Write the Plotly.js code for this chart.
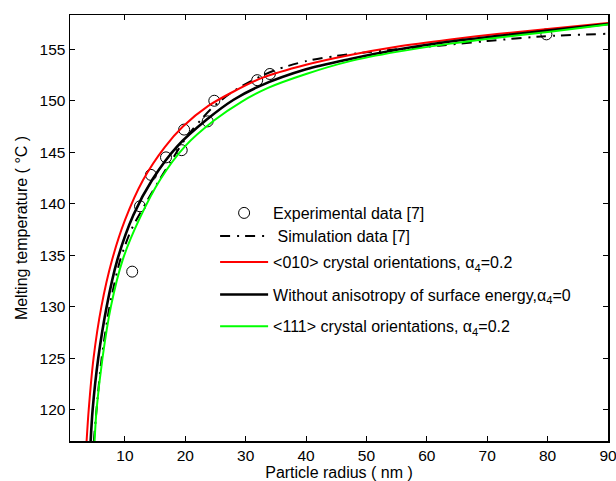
<!DOCTYPE html>
<html>
<head>
<meta charset="utf-8">
<script src="https://cdn.plot.ly/plotly-3.0.1.min.js"></script>
<style>html,body{margin:0;padding:0;background:#fff;}#chart{width:616px;height:481px;}</style>
</head>
<body>
<div id="chart"></div>
<script>
// Experimental data [7]
const expR = [11.2, 12.5, 14.3, 16.8, 19.4, 19.8, 23.7, 24.8, 31.9, 34.0, 79.8];
const expT = [133.4, 139.75, 142.8, 144.5, 145.2, 147.2, 148.0, 150.0, 152.0, 152.6, 156.45];

// Simulation data [7]
const simR = [4.85, 5.45, 6.15, 7.45, 9.2, 11.0, 13.6, 15.8, 17.5, 20.0, 22.5, 24.6, 27.9, 31.5, 35, 40, 45, 50, 55, 62, 70, 79, 89.6];
const simT = [116.95, 121.0, 125.0, 130.0, 134.5, 137.4, 140.2, 142.4, 144.0, 146.3, 148.1, 149.4, 150.9, 152.1, 153.0, 153.85, 154.35, 154.7, 155.0, 155.35, 155.8, 156.25, 156.5];

// <010> crystal orientations, alpha4 = 0.2 (red)
const redR = [3.65, 4.0, 4.8, 6.1, 7.85, 10.0, 13.0, 16.6, 19.6, 23.8, 28.0, 32.6, 40, 47.3, 55, 63.9, 72, 80.4, 90];
const redT = [116.95, 120.0, 125.0, 130.0, 134.5, 138.4, 142.3, 145.5, 147.5, 149.5, 150.9, 152.2, 153.5, 154.45, 155.25, 155.95, 156.5, 157.0, 157.55];

// Without anisotropy of surface energy, alpha4 = 0 (black)
const blackR = [4.32, 4.65, 5.58, 6.97, 8.72, 11.4, 14.6, 18.7, 23.6, 28.0, 32.4, 40, 47.3, 55, 63.9, 72, 80.4, 90];
const blackT = [116.95, 120.0, 125.0, 130.0, 134.5, 138.9, 142.4, 145.6, 148.2, 150.1, 151.45, 153.05, 154.05, 154.95, 155.75, 156.3, 156.85, 157.45];

// <111> crystal orientations, alpha4 = 0.2 (green)
const greenR = [4.97, 5.3, 6.28, 7.67, 9.6, 12.3, 15.9, 19.9, 24.8, 29.3, 33.7, 40, 47.3, 55, 63.9, 72, 80.4, 90];
const greenT = [116.95, 120.0, 125.0, 130.0, 134.5, 138.4, 142.4, 145.55, 148.1, 149.9, 151.25, 152.6, 153.85, 154.75, 155.55, 156.15, 156.7, 157.4];

const xTicks = [10, 20, 30, 40, 50, 60, 70, 80, 90];
const yTicks = [120, 125, 130, 135, 140, 145, 150, 155];

const names = [
  'Experimental data [7]',
  '\u00a0Simulation data [7]',
  '&lt;010&gt; crystal orientations, \u03b1<sub>4</sub>=0.2',
  'Without anisotropy of surface energy,\u03b1<sub>4</sub>=0',
  '&lt;111&gt; crystal orientations, \u03b1<sub>4</sub>=0.2'
];

const FONT = 'Liberation Sans, Arial, Helvetica, sans-serif';

const traces = [
  {x: expR, y: expT, name: names[0], mode: 'markers', type: 'scatter', legend: 'legend',
   marker: {symbol: 'circle-open', size: 11, color: '#000', line: {width: 1, color: '#000'}}},
  {x: simR, y: simT, name: names[1], mode: 'lines', type: 'scatter', legend: 'legend2',
   line: {shape: 'spline', smoothing: 0.8, color: '#000', width: 2, dash: '10px,7px,2px,6px'}},
  {x: redR, y: redT, name: names[2], mode: 'lines', type: 'scatter', legend: 'legend3',
   line: {shape: 'spline', smoothing: 0.8, color: '#ff0000', width: 2}},
  {x: blackR, y: blackT, name: names[3], mode: 'lines', type: 'scatter', legend: 'legend4',
   line: {shape: 'spline', smoothing: 0.8, color: '#000000', width: 2.6}},
  {x: greenR, y: greenT, name: names[4], mode: 'lines', type: 'scatter', legend: 'legend5',
   line: {shape: 'spline', smoothing: 0.8, color: '#00ff00', width: 2}}
];

const axisCommon = {
  showgrid: false, zeroline: false, showline: true, linecolor: '#000', linewidth: 1.5,
  mirror: 'ticks', ticks: 'inside', ticklen: 5, tickwidth: 1, tickcolor: '#000',
  ticklabeloverflow: 'allow',
  tickfont: {family: FONT, size: 15.5, color: '#000'}
};

function leg(y) {
  return {x: 0.2697, y: y, xanchor: 'left', yanchor: 'middle', bgcolor: 'rgba(0,0,0,0)', borderwidth: 0,
          itemwidth: 48, font: {family: FONT, size: 16, color: '#000'}};
}

const layout = {
  width: 616, height: 481,
  margin: {l: 70, r: 8.3, t: 14.7, b: 40.3},
  paper_bgcolor: '#fff', plot_bgcolor: '#fff',
  font: {family: FONT, size: 16, color: '#000'},
  showlegend: true,
  legend: leg(0.5352),
  legend2: leg(0.4812),
  legend3: leg(0.4202),
  legend4: leg(0.3437),
  legend5: leg(0.2692),
  xaxis: Object.assign({}, axisCommon, {
    range: [0.9, 90], tickvals: xTicks, ticktext: xTicks.map(String),
    title: {text: 'Particle radius ( nm )', font: {family: FONT, size: 16}, standoff: 8}
  }),
  yaxis: Object.assign({}, axisCommon, {
    range: [116.95, 158.33], tickvals: yTicks, ticktext: yTicks.map(String),
    title: {text: 'Melting temperature ( \u00b0C )', font: {family: FONT, size: 16}, standoff: 8}
  })
};

Plotly.newPlot('chart', traces, layout, {staticPlot: true, displayModeBar: false});
</script>
</body>
</html>
